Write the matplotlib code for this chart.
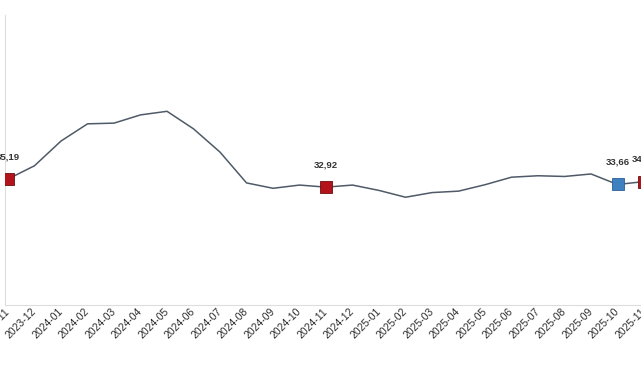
import matplotlib.pyplot as plt
from matplotlib.transforms import ScaledTranslation

# monthly series, 2023-11 .. 2025-11
months = ['2023-11', '2023-12', '2024-01', '2024-02', '2024-03', '2024-04',
          '2024-05', '2024-06', '2024-07', '2024-08', '2024-09', '2024-10',
          '2024-11', '2024-12', '2025-01', '2025-02', '2025-03', '2025-04',
          '2025-05', '2025-06', '2025-07', '2025-08', '2025-09', '2025-10',
          '2025-11']
values = [35.19, 38.9, 45.8, 50.6, 50.8, 53.1, 54.1, 49.2, 42.7, 34.1,
          32.6, 33.5, 32.92, 33.5, 32.0, 30.1, 31.4, 31.8, 33.6, 35.7,
          36.1, 35.9, 36.6, 33.66, 34.47]

# highlighted points: index and marker colour
marked_idx = [0, 12, 23, 24]
marked_colors = ['#b3141c', '#b3141c', '#3f80c0', '#b3141c']


def fmt(v):
    return f'{v:.2f}'.replace('.', ',')


def main():
    fig = plt.figure(figsize=(6.41, 3.80), dpi=100)
    ax = fig.add_axes([5 / 641, 75 / 380, 660 / 641, 290 / 380])

    x = list(range(len(months)))
    ax.plot(x, values, color='#4f5a68', linewidth=1.1, zorder=2)

    for i, c in zip(marked_idx, marked_colors):
        edge = '#2a5f95' if c == '#3f80c0' else '#6e0d0d'
        ax.plot(x[i], values[i], marker='s', markersize=8.5, color=c,
                markeredgecolor=edge, markeredgewidth=0.6,
                linestyle='none', zorder=3)
        ax.annotate(fmt(values[i]), (x[i], values[i]), xytext=(0, 16),
                    textcoords='offset points', ha='center', va='center',
                    fontsize=6.8, fontweight='bold', color='#333333',
                    family='Liberation Sans')

    ax.set_xlim(-3 / 26.3, (660 - 8) / 26.3)
    ax.set_ylim(0, 81)

    ax.set_xticks(x)
    ax.set_xticklabels(months, rotation=45, ha='right', va='center',
                       rotation_mode='anchor', fontsize=7.5,
                       family='Liberation Sans', color='#2b2b2b')
    offset = ScaledTranslation(10 / 100, -14 / 100, fig.dpi_scale_trans)
    for lbl in ax.get_xticklabels():
        lbl.set_transform(lbl.get_transform() + offset)
    ax.tick_params(axis='x', length=0)
    ax.set_yticks([])

    for side in ['top', 'right']:
        ax.spines[side].set_visible(False)
    for side in ['left', 'bottom']:
        ax.spines[side].set_color('#dddddd')
        ax.spines[side].set_linewidth(0.8)

    fig.savefig('out.png', dpi=100)


if __name__ == "__main__":
    main()
